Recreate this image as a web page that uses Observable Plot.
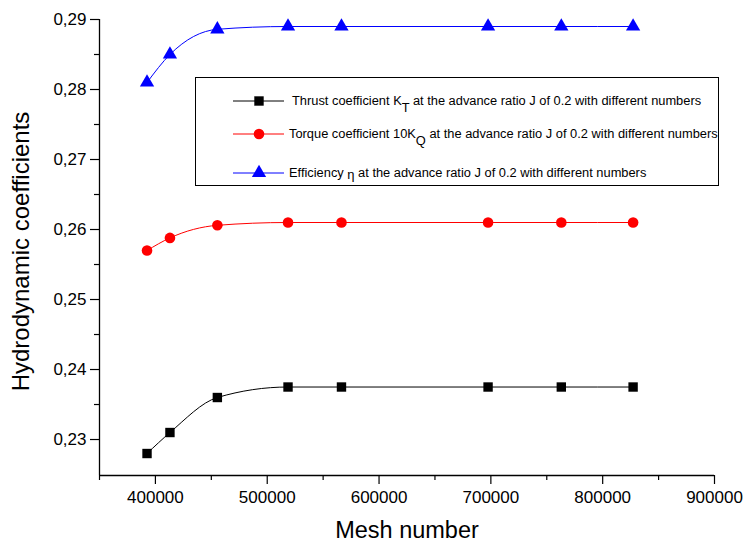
<!DOCTYPE html>
<html>
<head>
<meta charset="utf-8">
<script src="https://cdn.jsdelivr.net/npm/d3@7"></script>
<script src="https://cdn.jsdelivr.net/npm/@observablehq/plot@0.6"></script>
<style>
  html, body { margin: 0; padding: 0; background: #fff; }
  svg { display: block; }
</style>
</head>
<body>
<div id="chart"></div>
<script>
// ---- data ----
const meshNumbers = [392500, 413000, 455400, 518600, 566400, 697500, 763000, 827200];
const thrustKT    = [0.228, 0.231, 0.236, 0.2375, 0.2375, 0.2375, 0.2375, 0.2375];
const torque10KQ  = [0.257, 0.2588, 0.2606, 0.261, 0.261, 0.261, 0.261, 0.261];
const efficiency  = [0.281, 0.285, 0.2886, 0.289, 0.289, 0.289, 0.289, 0.289];

const seriesNames = ["thrust", "torque", "efficiency"];
const seriesValues = [thrustKT, torque10KQ, efficiency];
const seriesColors = ["#000000", "#ff0000", "#0000ff"];
const seriesSymbols = ["square", "circle", "triangle"];

const xMajorTicks = [400000, 500000, 600000, 700000, 800000, 900000];
const xMinorTicks = [350000, 450000, 550000, 650000, 750000, 850000];
const yMajorTicks = [0.23, 0.24, 0.25, 0.26, 0.27, 0.28, 0.29];
const yMinorTicks = [0.235, 0.245, 0.255, 0.265, 0.275, 0.285];

const xTitle = "Mesh number";
const yTitle = "Hydrodynamic coefficients";

const xDomain = [350000, 900000];
const yDomain = [0.22486, 0.29];

// ---- build table ----
const rows = [];
seriesNames.forEach((s, i) => {
  meshNumbers.forEach((m, j) => rows.push({series: s, mesh: m, value: seriesValues[i][j]}));
});

const font = "'Liberation Sans', Arial, sans-serif";

const chart = Plot.plot({
  width: 747,
  height: 546,
  marginLeft: 99,
  marginRight: 33,
  marginTop: 19,
  marginBottom: 71,
  style: {fontFamily: font, background: "#fff", color: "#000"},
  x: {domain: xDomain},
  y: {domain: yDomain},
  color: {domain: seriesNames, range: seriesColors},
  symbol: {domain: seriesNames, range: seriesSymbols},
  marks: [
    Plot.axisX({ticks: xMajorTicks, tickSize: 9, tickPadding: 6, tickFormat: d => String(d), fontSize: 17, label: null, strokeWidth: 1.2}),
    Plot.axisX({ticks: xMinorTicks, tickSize: 5, tickFormat: () => "", label: null, strokeWidth: 1.2}),
    Plot.axisY({ticks: yMajorTicks, tickSize: 9, tickPadding: 4, tickFormat: d => d.toFixed(2).replace(".", ","), fontSize: 17, label: null, strokeWidth: 1.2}),
    Plot.axisY({ticks: yMinorTicks, tickSize: 5, tickFormat: () => "", label: null, strokeWidth: 1.2}),
    Plot.ruleX([xDomain[0]], {stroke: "#000", strokeWidth: 1.3}),
    Plot.ruleY([yDomain[0]], {stroke: "#000", strokeWidth: 1.3}),
    Plot.line(rows, {x: "mesh", y: "value", z: "series", stroke: "series", curve: "monotone-x", strokeWidth: 1}),
    Plot.dot(rows, {x: "mesh", y: "value", fill: "series", symbol: "series", r: 5.3, stroke: "none"}),
    Plot.text([xTitle], {frameAnchor: "bottom", dy: 62, fontSize: 23.5, fill: "#000"}),
    Plot.text([yTitle], {frameAnchor: "left", dx: -78, dy: 4, rotate: -90, textAnchor: "middle", fontSize: 24, fill: "#000"})
  ]
});

document.getElementById("chart").appendChild(chart);

// ---- legend box drawn inside the plot area ----
const svg = d3.select(chart);
const lg = svg.append("g").attr("font-family", font).attr("font-size", 12.85).attr("text-anchor", "start");
lg.append("rect").attr("x", 195.5).attr("y", 77.5).attr("width", 523).attr("height", 108)
  .attr("fill", "#fff").attr("stroke", "#000").attr("stroke-width", 1);

const legendRows = [
  {y: 101, parts: [["Thrust coefficient K", 0], ["T", 1], [" at the advance ratio J of 0.2 with different numbers", 0]], tx: 292},
  {y: 134, parts: [["Torque coefficient 10K", 0], ["Q", 1], [" at the advance ratio J of 0.2 with different numbers", 0]], tx: 289},
  {y: 173, parts: [["Efficiency ", 0], ["\u03b7", 2], [" at the advance ratio J of 0.2 with different numbers", 0]], tx: 289}
];
legendRows.forEach((r, i) => {
  lg.append("line").attr("x1", 233).attr("x2", 284).attr("y1", r.y).attr("y2", r.y)
    .attr("stroke", seriesColors[i]).attr("stroke-width", 1);
  const sym = d3.symbol().type([d3.symbolSquare, d3.symbolCircle, d3.symbolTriangle][i]).size(Math.PI * 5.3 * 5.3);
  lg.append("path").attr("d", sym()).attr("transform", `translate(259,${r.y})`).attr("fill", seriesColors[i]);
  const t = lg.append("text").attr("x", r.tx).attr("y", r.y + 4).attr("fill", "#000").attr("text-anchor", "start");
  let shift = 0;
  r.parts.forEach(([s, kind]) => {
    const ts = t.append("tspan").text(s);
    if (kind === 1) { ts.attr("dy", 7); shift = 7; }
    else if (kind === 2) { ts.attr("dy", 2).attr("font-size", 13); shift = 2; }
    else if (shift) { ts.attr("dy", -shift); shift = 0; }
  });
});
</script>
</body>
</html>
